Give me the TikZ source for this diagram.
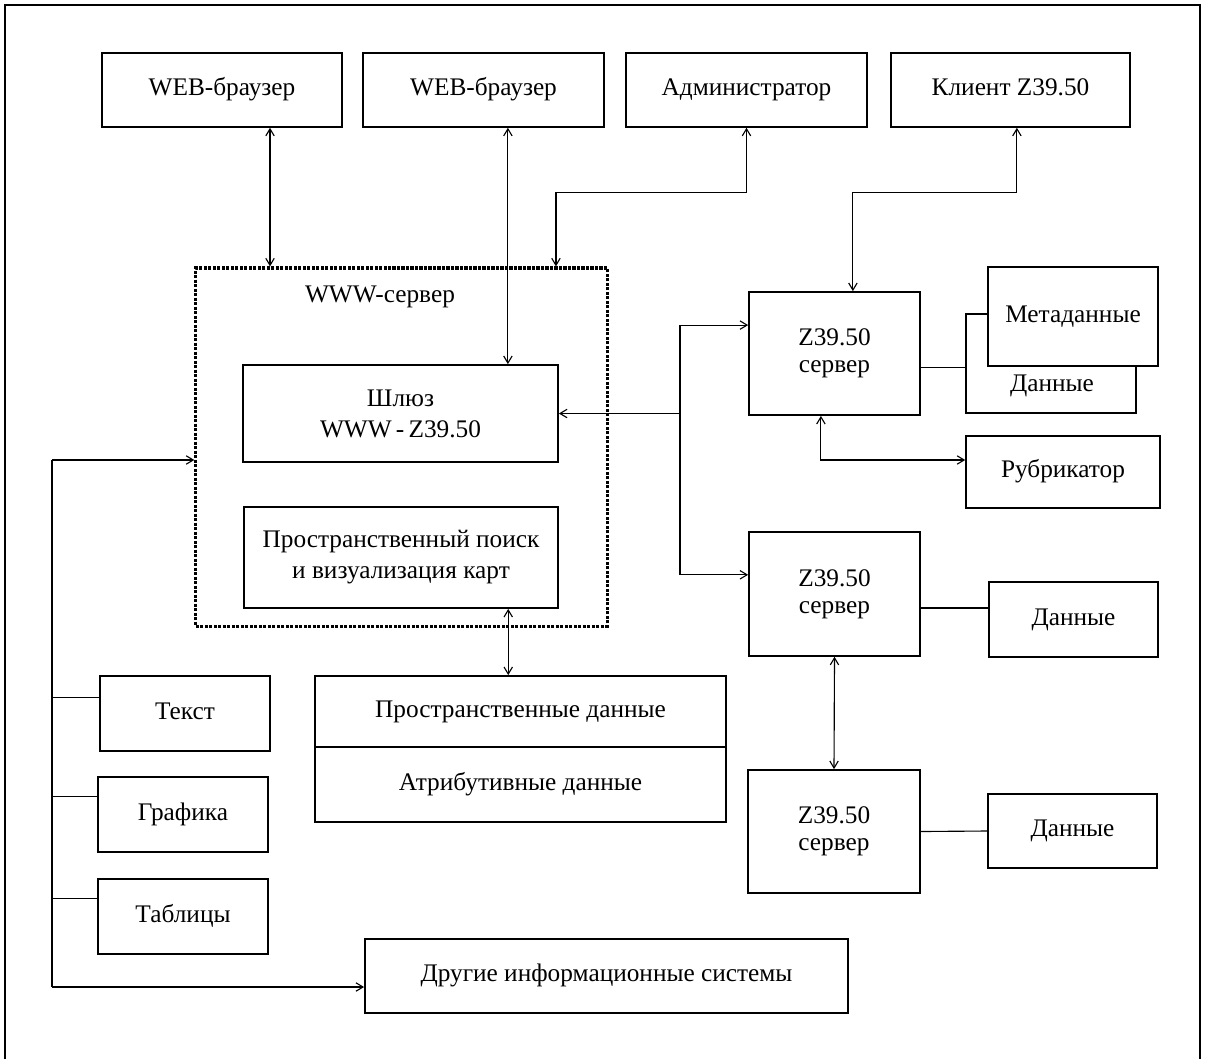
\documentclass[tikz,border=0pt]{standalone}
\usepackage{fontspec}
\setmainfont{Liberation Serif}
\usetikzlibrary{arrows.meta}

\begin{document}
\begin{tikzpicture}[x=0.025cm, y=-0.025cm,
    font=\fontsize{18}{22}\selectfont,
    box/.style={draw, line width=1.1pt, inner sep=0pt, align=center, fill=white},
    one/.style={text height=12pt, text depth=4pt},
    link/.style={line width=0.8pt},
    >={Straight Barb[length=5pt,width=6pt]}]
    \useasboundingbox (0,0) rectangle (1207,1059);
    \draw[line width=1.2pt] (5,1059) -- (5,5) -- (1200,5) -- (1200,1059);

    % top row
    \node[box, one, minimum width=6cm, minimum height=1.85cm] (web1) at (222,90) {WEB-браузер};
    \node[box, one, minimum width=6.03cm, minimum height=1.85cm] (web2) at (483.5,90) {WEB-браузер};
    \node[box, one, minimum width=6.03cm, minimum height=1.85cm] (admin) at (746.5,90) {Администратор};
    \node[box, one, minimum width=5.98cm, minimum height=1.85cm] (client) at (1010.5,90) {Клиент Z39.50};

    % www server
    \node[draw, densely dotted, line width=2.2pt, minimum width=10.28cm, minimum height=8.95cm] (www) at (401.5,447) {};
    \node (wwwlbl) at (380,297) {WWW-сервер};
    \node[box, minimum width=7.88cm, minimum height=2.43cm] (shluz) at (400.5,413.5) {Шлюз\\WWW\,-\,Z39.50};
    \node[box, minimum width=7.85cm, minimum height=2.53cm] (search) at (401,557.5) {Пространственный поиск\\и визуализация карт};

    % z39.50 servers
    \node[box, minimum width=4.28cm, minimum height=3.08cm, font=\fontsize{18}{19}\selectfont] (zs1) at (834.5,353.5) {Z39.50\\сервер};
    \node[box, minimum width=4.25cm, minimum height=2.48cm] (data1) at (1051,363.5) {};
    \node[one] (data1txt) at (1052,386) {Данные};
    \node[box, one, minimum width=4.25cm, minimum height=2.48cm] (meta) at (1073,316.5) {Метаданные};
    \node[box, one, minimum width=4.85cm, minimum height=1.8cm] (rubr) at (1063,472) {Рубрикатор};
    \node[box, minimum width=4.28cm, minimum height=3.1cm, font=\fontsize{18}{19}\selectfont] (zs2) at (834.5,594) {Z39.50\\сервер};
    \node[box, one, minimum width=4.23cm, minimum height=1.88cm] (data2) at (1073.5,619.5) {Данные};
    \node[box, minimum width=4.3cm, minimum height=3.08cm, font=\fontsize{18}{19}\selectfont] (zs3) at (834,831.5) {Z39.50\\сервер};
    \node[box, one, minimum width=4.23cm, minimum height=1.85cm] (data3) at (1072.5,831) {Данные};

    % spatial data
    \node[box, one, minimum width=10.28cm, minimum height=1.78cm] (spat) at (520.5,711.5) {Пространственные данные};
    \node[box, one, minimum width=10.28cm, minimum height=1.88cm] (attr) at (520.5,784.5) {Атрибутивные данные};

    % left column
    \node[box, one, minimum width=4.25cm, minimum height=1.88cm] (txt) at (185,713.5) {Текст};
    \node[box, one, minimum width=4.25cm, minimum height=1.88cm] (gfx) at (183,814.5) {Графика};
    \node[box, one, minimum width=4.25cm, minimum height=1.88cm] (tbl) at (183,916.5) {Таблицы};
    \node[box, one, minimum width=12.08cm, minimum height=1.85cm] (other) at (606.5,976) {Другие информационные системы};

    % connectors
    \draw[link,<->] ([xshift=1.2cm]web1.south) -- ([xshift=1.2cm]web1.south |- www.north);
    \draw[link,<->] ([xshift=0.61cm]web2.south) -- ([xshift=0.61cm]web2.south |- shluz.north);
    \draw[link,<->] (admin.south) -- ++(0,65) -| ([xshift=3.86cm]www.north);
    \draw[link,<->] ([xshift=0.16cm]client.south) -- ++(0,65) -| ([xshift=0.46cm]zs1.north);

    \coordinate (jr) at (680,413.5);
    \draw[link,->] (jr) -- (shluz.east);
    \draw[link,->] (jr) |- ([yshift=0.71cm]zs1.west);
    \draw[link,->] (jr) |- ([yshift=0.48cm]zs2.west);

    \draw[link] ([yshift=-0.36cm]zs1.east) -- ([yshift=-0.36cm]zs1.east -| data1.west);
    \draw[link,<->] ([xshift=-0.34cm]zs1.south) |- ([yshift=0.3cm]rubr.west);
    \draw[link] ([yshift=-0.35cm]zs2.east) -- ([yshift=-0.35cm]zs2.east -| data2.west);
    \draw[link] (zs3.east) -- (data3.west);
    \draw[link,<->] (zs2.south) -- (zs3.north);
    \draw[link,<->] ([xshift=2.68cm]search.south) -- ([xshift=2.68cm]search.south |- spat.north);

    \coordinate (bl) at (52,460);
    \coordinate (bb) at (52,987);
    \draw[link,->] (bl) -- (bl -| www.west);
    \draw[link] (bl) -- (bb);
    \draw[link,->] (bb) -- (bb -| other.west);
    \draw[link] ([yshift=0.41cm]txt.west) -- ([yshift=0.41cm]txt.west -| bl);
    \draw[link] ([yshift=0.44cm]gfx.west) -- ([yshift=0.44cm]gfx.west -| bl);
    \draw[link] ([yshift=0.46cm]tbl.west) -- ([yshift=0.46cm]tbl.west -| bl);
\end{tikzpicture}
\end{document}
